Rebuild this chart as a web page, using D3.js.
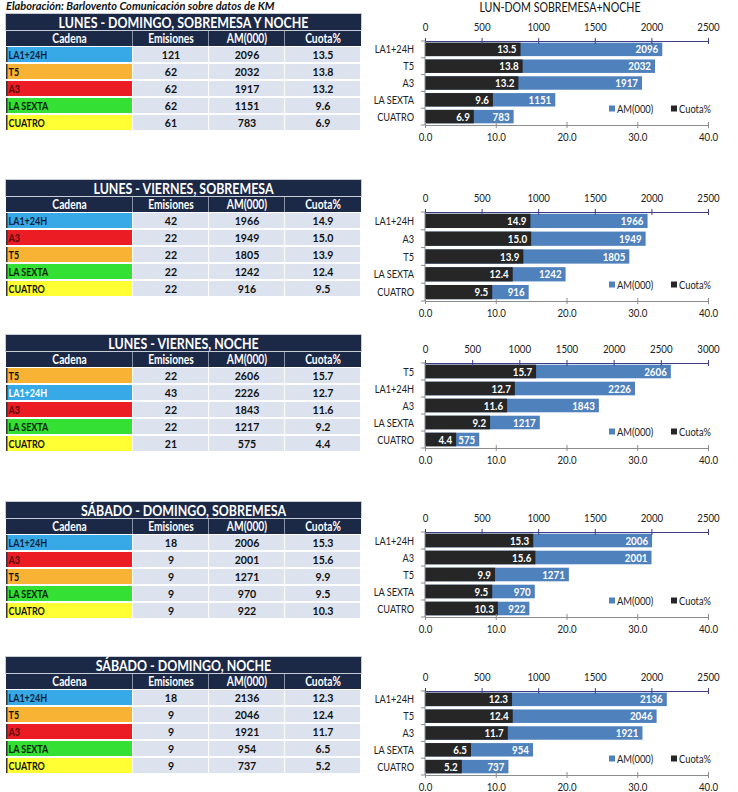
<!DOCTYPE html>
<html><head><meta charset="utf-8">
<script src="https://cdn.jsdelivr.net/npm/d3@7"></script>
<style>
html,body{margin:0;padding:0;background:#fff;}
svg{display:block;}
text{font-family:Lato,"Open Sans",sans-serif;}
</style></head>
<body>
<svg id="c" width="738" height="792"></svg>
<script>
// ---------- DATA ----------
const source = "Elaboración: Barlovento Comunicación sobre datos de KM";
const tableTitles = ["LUNES - DOMINGO, SOBREMESA Y NOCHE","LUNES - VIERNES, SOBREMESA","LUNES - VIERNES, NOCHE","SÁBADO - DOMINGO, SOBREMESA","SÁBADO - DOMINGO, NOCHE"];
const chartTitles = ["LUN-DOM SOBREMESA+NOCHE","","","",""];
const columns = ["Cadena","Emisiones","AM(000)","Cuota%"];
const cadenas1 = ["LA1+24H","T5","A3","LA SEXTA","CUATRO"];
const cadenas2 = ["LA1+24H","A3","T5","LA SEXTA","CUATRO"];
const cadenas3 = ["T5","LA1+24H","A3","LA SEXTA","CUATRO"];
const cadenas4 = ["LA1+24H","A3","T5","LA SEXTA","CUATRO"];
const cadenas5 = ["LA1+24H","T5","A3","LA SEXTA","CUATRO"];
const emisiones1 = [121,62,62,62,61];
const emisiones2 = [42,22,22,22,22];
const emisiones3 = [22,43,22,22,21];
const emisiones4 = [18,9,9,9,9];
const emisiones5 = [18,9,9,9,9];
const am1 = [2096,2032,1917,1151,783];
const am2 = [1966,1949,1805,1242,916];
const am3 = [2606,2226,1843,1217,575];
const am4 = [2006,2001,1271,970,922];
const am5 = [2136,2046,1921,954,737];
const cuota1 = [13.5,13.8,13.2,9.6,6.9];
const cuota2 = [14.9,15.0,13.9,12.4,9.5];
const cuota3 = [15.7,12.7,11.6,9.2,4.4];
const cuota4 = [15.3,15.6,9.9,9.5,10.3];
const cuota5 = [12.3,12.4,11.7,6.5,5.2];
const amTicks1 = [0,500,1000,1500,2000,2500];
const amTicks2 = [0,500,1000,1500,2000,2500];
const amTicks3 = [0,500,1000,1500,2000,2500,3000];
const amTicks4 = [0,500,1000,1500,2000,2500];
const amTicks5 = [0,500,1000,1500,2000,2500];
const cuotaTicks = [0,10,20,30,40];
const seriesNames = ["AM(000)","Cuota%"];

const cadenas = [cadenas1,cadenas2,cadenas3,cadenas4,cadenas5];
const emisiones = [emisiones1,emisiones2,emisiones3,emisiones4,emisiones5];
const am = [am1,am2,am3,am4,am5];
const cuota = [cuota1,cuota2,cuota3,cuota4,cuota5];
const amTicks = [amTicks1,amTicks2,amTicks3,amTicks4,amTicks5];

// ---------- STYLE / LAYOUT ----------
const chanColor = {"LA1+24H":"#37a9e6","T5":"#f8b334","A3":"#ec1c24","LA SEXTA":"#33e033","CUATRO":"#ffff33"};
const chanText = {"LA1+24H":"#0f2040","T5":"#111","A3":"#5a0a0a","LA SEXTA":"#0a200a","CUATRO":"#111"};
const navy = "#1b2846";
const cellBg = "#dce3ee";
const blue = "#4f81bd";
const dark = "#262626";
const tableTop = [14,180,335,502,657];
const axisTop = [41,212,363,532,691];
const axisBot = [125,301,448,617,775];
const FF = "Lato,'Open Sans',sans-serif";

const svg = d3.select("#c");

// horizontal condensing (to mimic a narrow font)
function squeeze(sel, f){
  sel.each(function(){
    const w = this.getComputedTextLength();
    d3.select(this).attr("textLength", w*f).attr("lengthAdjust","spacingAndGlyphs");
  });
}

svg.append("text").attr("x",6).attr("y",10)
  .attr("font-size",11.5).attr("font-weight","bold").attr("font-style","italic")
  .attr("fill","#111").text(source).call(squeeze,0.96);

const colX = [6,133,209,285,361];

for(let p=0;p<5;p++){
  const g = svg.append("g");
  const y0 = tableTop[p];
  // title bar
  g.append("rect").attr("x",colX[0]-0.5).attr("y",y0-0.5).attr("width",colX[4]-colX[0]+1).attr("height",17)
    .attr("fill",navy).attr("stroke","#c8ccd4").attr("stroke-width",1);
  g.append("text").attr("x",(colX[0]+colX[4])/2).attr("y",y0+13.5).attr("text-anchor","middle")
    .attr("font-size",15.5).attr("font-weight","bold").attr("fill","#fff").text(tableTitles[p])
    .call(squeeze,0.8);
  // header row
  const hy = y0+17;
  g.append("rect").attr("x",colX[0]).attr("y",hy).attr("width",colX[4]-colX[0]).attr("height",15).attr("fill",navy);
  columns.forEach((c,i)=>{
    if(i>0) g.append("line").attr("x1",colX[i]-0.5).attr("x2",colX[i]-0.5).attr("y1",hy).attr("y2",hy+15).attr("stroke","#8a93a6").attr("stroke-width",1);
    g.append("text").attr("x",(colX[i]+colX[i+1])/2).attr("y",hy+11.5).attr("text-anchor","middle")
      .attr("font-size",12.5).attr("font-weight","bold").attr("fill","#fff").text(c).call(squeeze,0.82);
  });
  // data rows
  const ry0 = hy+16;
  cadenas[p].forEach((ch,r)=>{
    const ry = ry0 + r*17;
    g.append("rect").attr("x",colX[0]).attr("y",ry).attr("width",colX[1]-colX[0]-1).attr("height",15).attr("fill",chanColor[ch]);
    g.append("rect").attr("x",colX[0]).attr("y",ry).attr("width",1.5).attr("height",15).attr("fill","#333");
    const txtCol = (p===2 && ch==="LA1+24H") ? "#fff" : chanText[ch];
    g.append("text").attr("x",colX[0]+2.5).attr("y",ry+11.5).attr("font-size",11.5).attr("font-weight","bold").attr("fill",txtCol).text(ch).call(squeeze,0.78);
    const vals = [emisiones[p][r], am[p][r], cuota[p][r].toFixed(1)];
    vals.forEach((v,i)=>{
      g.append("rect").attr("x",colX[i+1]).attr("y",ry).attr("width",colX[i+2]-colX[i+1]-1).attr("height",15).attr("fill",cellBg);
      g.append("text").attr("x",(colX[i+1]+colX[i+2])/2).attr("y",ry+11.5).attr("text-anchor","middle")
        .attr("font-size",11.5).attr("font-weight","bold").attr("fill","#111").text(v).call(squeeze,0.92);
    });
  });

  // ---------- chart ----------
  const cg = svg.append("g");
  const xL = 425, xR = 708;
  const maxAm = amTicks[p][amTicks[p].length-1];
  const xa = d3.scaleLinear().domain([0,maxAm]).range([xL,xR]);
  const xc = d3.scaleLinear().domain([0,40]).range([xL,xR]);
  const yb = d3.scaleBand().domain(cadenas[p]).range([axisTop[p],axisBot[p]]).paddingInner(0.2).paddingOuter(0.1);

  if(chartTitles[p]){
    cg.append("text").attr("x",560).attr("y",12).attr("text-anchor","middle").attr("font-size",12.5).attr("fill","#111").text(chartTitles[p]).call(squeeze,0.85);
  }
  // blue bars
  cg.selectAll(".am").data(cadenas[p]).join("rect")
    .attr("x",xL).attr("y",d=>yb(d)).attr("height",yb.bandwidth())
    .attr("width",(d,i)=>xa(am[p][i])-xL).attr("fill",blue);
  cg.selectAll(".amL").data(cadenas[p]).join("text")
    .attr("x",(d,i)=>xa(am[p][i])-4).attr("y",d=>yb(d)+yb.bandwidth()/2+4)
    .attr("text-anchor","end").attr("font-size",11.5).attr("font-weight","bold").attr("fill","#fff")
    .text((d,i)=>am[p][i]).call(squeeze,0.85);
  // dark bars
  cg.selectAll(".cu").data(cadenas[p]).join("rect")
    .attr("x",xL).attr("y",d=>yb(d)).attr("height",yb.bandwidth())
    .attr("width",(d,i)=>xc(cuota[p][i])-xL).attr("fill",dark);
  cg.selectAll(".cuL").data(cadenas[p]).join("text")
    .attr("x",(d,i)=>xc(cuota[p][i])-4).attr("y",d=>yb(d)+yb.bandwidth()/2+4)
    .attr("text-anchor","end").attr("font-size",11.5).attr("font-weight","bold").attr("fill","#fff")
    .text((d,i)=>cuota[p][i].toFixed(1)).call(squeeze,0.85);

  // top axis
  const ta = cg.append("g").attr("transform",`translate(0,${axisTop[p]})`)
    .call(d3.axisTop(xa).tickValues(amTicks[p]).tickSize(3).tickSizeOuter(0).tickFormat(d3.format("d")));
  ta.select(".domain").attr("stroke","#3d3d8a").attr("stroke-width",1.2);
  ta.selectAll(".tick line").attr("stroke","#3d3d8a").attr("y1",3);
  ta.selectAll(".tick text").attr("font-family",FF).attr("font-size",11).attr("fill","#222").attr("dy","-0.4em").call(squeeze,0.88);
  // bottom axis
  const ba = cg.append("g").attr("transform",`translate(0,${axisBot[p]})`)
    .call(d3.axisBottom(xc).tickValues(cuotaTicks).tickSize(3).tickSizeOuter(0).tickFormat(d3.format(".1f")));
  ba.select(".domain").attr("stroke","#8c8c8c");
  ba.selectAll(".tick line").attr("stroke","#8c8c8c").attr("y1",-3);
  ba.selectAll(".tick text").attr("font-family",FF).attr("font-size",11).attr("fill","#222").attr("dy","0.95em").call(squeeze,0.88);
  // left axis
  cg.append("line").attr("x1",xL).attr("x2",xL).attr("y1",axisTop[p]).attr("y2",axisBot[p]).attr("stroke","#8c8c8c");
  const bounds = d3.range(cadenas[p].length+1).map(i=>axisTop[p]+ (axisBot[p]-axisTop[p])*i/cadenas[p].length);
  cg.selectAll(".lt").data(bounds).join("line").attr("x1",xL-4).attr("x2",xL).attr("y1",d=>d).attr("y2",d=>d).attr("stroke","#8c8c8c");
  cg.selectAll(".cat").data(cadenas[p]).join("text")
    .attr("x",414).attr("y",d=>yb(d)+yb.bandwidth()/2+4).attr("text-anchor","end")
    .attr("font-size",11.5).attr("fill","#222").text(d=>d).call(squeeze,0.8);
  // legend
  const lg = cg.append("g").attr("transform",`translate(0,${axisBot[p]-16})`);
  [[seriesNames[0],blue,609],[seriesNames[1],dark,671]].forEach(([n,c,x])=>{
    lg.append("rect").attr("x",x).attr("y",-3.5).attr("width",6).attr("height",6).attr("fill",c);
    lg.append("text").attr("x",x+8).attr("y",3.5).attr("font-size",11).attr("fill","#222").text(n).call(squeeze,0.85);
  });
}
</script>
</body></html>
